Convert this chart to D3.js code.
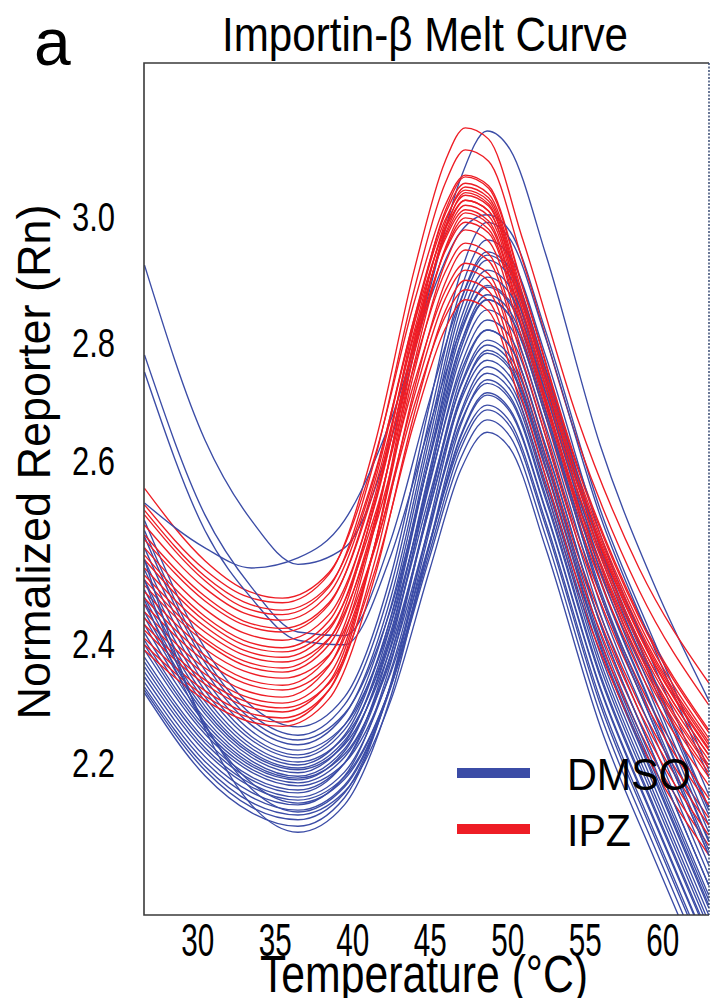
<!DOCTYPE html>
<html>
<head>
<meta charset="utf-8">
<script src="https://cdn.jsdelivr.net/npm/d3@7"></script>
<style>
  html, body { margin: 0; padding: 0; background: #fff; }
  text { font-family: "Liberation Sans", Arial, Helvetica, sans-serif; fill: #000; }
</style>
</head>
<body>
<script>
// ---------------- data ----------------
const chartTitle = "Importin-\u03B2 Melt Curve";
const panelLabel = "a";
const xLabel = "Temperature (\u00B0C)";
const yLabel = "Normalized Reporter (Rn)";
const xTicks = [30, 35, 40, 45, 50, 55, 60];
const yTicks = [2.2, 2.4, 2.6, 2.8, 3.0];
const legendLabels = ["DMSO", "IPZ"];

// temperatures (°C) at which each curve was read
const tempsIPZ  = [26.6, 30.5, 33, 35.5, 38.5, 41.5, 44, 46, 47.3, 48.8, 51, 54.5, 58.5, 63];
const tempsDMSO = [26.6, 30.5, 33.5, 36.5, 39.5, 42.5, 45, 47, 48.7, 50.2, 52.5, 56, 59.5, 63];

// IPZ (red) curves, normalized reporter (Rn)
const ipzCurves = [
  [2.569, 2.490, 2.459, 2.449, 2.477, 2.610, 2.863, 3.017, 3.065, 3.048, 2.889, 2.596, 2.431, 2.254],
  [2.551, 2.480, 2.452, 2.444, 2.475, 2.631, 2.914, 3.087, 3.140, 3.122, 2.963, 2.673, 2.482, 2.333],
  [2.545, 2.473, 2.445, 2.436, 2.463, 2.588, 2.830, 2.979, 3.025, 3.008, 2.849, 2.568, 2.403, 2.212],
  [2.540, 2.468, 2.439, 2.431, 2.461, 2.605, 2.883, 3.052, 3.105, 3.087, 2.929, 2.636, 2.458, 2.296],
  [2.529, 2.460, 2.433, 2.425, 2.454, 2.585, 2.837, 2.994, 3.041, 3.024, 2.865, 2.579, 2.414, 2.229],
  [2.518, 2.451, 2.424, 2.416, 2.444, 2.572, 2.811, 2.963, 3.010, 2.992, 2.833, 2.557, 2.388, 2.195],
  [2.513, 2.446, 2.420, 2.412, 2.442, 2.579, 2.838, 3.003, 3.052, 3.035, 2.876, 2.587, 2.422, 2.240],
  [2.504, 2.437, 2.411, 2.403, 2.431, 2.558, 2.792, 2.944, 2.990, 2.973, 2.814, 2.544, 2.368, 2.175],
  [2.496, 2.429, 2.403, 2.392, 2.424, 2.563, 2.817, 2.983, 3.033, 3.016, 2.857, 2.574, 2.409, 2.220],
  [2.491, 2.424, 2.397, 2.385, 2.417, 2.542, 2.759, 2.911, 2.957, 2.940, 2.780, 2.521, 2.333, 2.139],
  [2.482, 2.418, 2.388, 2.376, 2.414, 2.553, 2.802, 2.967, 3.017, 3.000, 2.841, 2.563, 2.397, 2.203],
  [2.474, 2.412, 2.380, 2.368, 2.405, 2.528, 2.731, 2.881, 2.925, 2.908, 2.746, 2.499, 2.299, 2.106],
  [2.469, 2.405, 2.370, 2.358, 2.404, 2.555, 2.829, 3.008, 3.062, 3.044, 2.886, 2.593, 2.428, 2.250],
  [2.463, 2.401, 2.363, 2.351, 2.397, 2.537, 2.780, 2.946, 2.997, 2.979, 2.821, 2.549, 2.375, 2.182],
  [2.456, 2.390, 2.353, 2.341, 2.380, 2.506, 2.692, 2.840, 2.883, 2.865, 2.700, 2.470, 2.254, 2.060],
  [2.449, 2.379, 2.341, 2.329, 2.378, 2.534, 2.795, 2.971, 3.025, 3.008, 2.849, 2.568, 2.403, 2.212],
  [2.442, 2.370, 2.333, 2.321, 2.363, 2.505, 2.708, 2.868, 2.914, 2.897, 2.734, 2.492, 2.287, 2.094],
  [2.434, 2.358, 2.321, 2.309, 2.361, 2.530, 2.803, 2.989, 3.046, 3.029, 2.870, 2.583, 2.417, 2.234],
  [2.427, 2.348, 2.311, 2.299, 2.346, 2.510, 2.749, 2.925, 2.978, 2.960, 2.802, 2.536, 2.355, 2.161],
  [2.420, 2.338, 2.303, 2.291, 2.332, 2.481, 2.664, 2.821, 2.867, 2.849, 2.683, 2.459, 2.237, 2.044],
  [2.414, 2.331, 2.295, 2.284, 2.334, 2.510, 2.764, 2.949, 3.005, 2.987, 2.829, 2.554, 2.383, 2.190],
  [2.405, 2.320, 2.285, 2.274, 2.321, 2.492, 2.719, 2.894, 2.946, 2.929, 2.768, 2.514, 2.321, 2.128],
  [2.397, 2.311, 2.278, 2.267, 2.321, 2.510, 2.783, 2.978, 3.037, 3.019, 2.860, 2.576, 2.411, 2.223],
  [2.388, 2.304, 2.271, 2.260, 2.306, 2.475, 2.678, 2.849, 2.898, 2.881, 2.717, 2.481, 2.271, 2.077]
];

// DMSO (blue) curves, normalized reporter (Rn)
const dmsoCurves = [
  [2.922, 2.634, 2.534, 2.486, 2.504, 2.634, 2.883, 3.060, 3.135, 3.105, 2.938, 2.625, 2.463, 2.304],
  [2.778, 2.540, 2.461, 2.412, 2.408, 2.513, 2.702, 2.867, 2.938, 2.911, 2.749, 2.503, 2.334, 2.119],
  [2.749, 2.523, 2.449, 2.403, 2.397, 2.496, 2.659, 2.819, 2.890, 2.864, 2.698, 2.470, 2.284, 2.069],
  [2.553, 2.504, 2.482, 2.493, 2.534, 2.668, 2.867, 2.975, 3.002, 2.975, 2.816, 2.546, 2.401, 2.187],
  [2.534, 2.391, 2.294, 2.259, 2.309, 2.474, 2.695, 2.910, 2.990, 2.963, 2.805, 2.539, 2.390, 2.175],
  [2.523, 2.376, 2.280, 2.245, 2.296, 2.462, 2.671, 2.883, 2.962, 2.935, 2.775, 2.519, 2.360, 2.145],
  [2.516, 2.367, 2.271, 2.237, 2.281, 2.438, 2.603, 2.797, 2.867, 2.840, 2.673, 2.454, 2.259, 2.044],
  [2.504, 2.354, 2.262, 2.229, 2.279, 2.450, 2.652, 2.865, 2.943, 2.916, 2.754, 2.506, 2.339, 2.124],
  [2.491, 2.341, 2.252, 2.220, 2.262, 2.421, 2.577, 2.749, 2.819, 2.792, 2.622, 2.421, 2.208, 1.993],
  [2.480, 2.330, 2.243, 2.212, 2.262, 2.440, 2.637, 2.852, 2.930, 2.903, 2.741, 2.497, 2.326, 2.111],
  [2.469, 2.320, 2.237, 2.207, 2.254, 2.428, 2.605, 2.813, 2.887, 2.860, 2.695, 2.468, 2.281, 2.066],
  [2.458, 2.310, 2.229, 2.200, 2.242, 2.407, 2.562, 2.724, 2.795, 2.766, 2.598, 2.404, 2.183, 1.968],
  [2.450, 2.302, 2.223, 2.195, 2.245, 2.429, 2.620, 2.836, 2.914, 2.887, 2.724, 2.486, 2.309, 2.094],
  [2.442, 2.294, 2.217, 2.190, 2.236, 2.413, 2.584, 2.776, 2.851, 2.824, 2.656, 2.443, 2.242, 2.027],
  [2.434, 2.287, 2.213, 2.187, 2.229, 2.393, 2.548, 2.700, 2.769, 2.741, 2.581, 2.382, 2.158, 1.943],
  [2.428, 2.281, 2.208, 2.182, 2.232, 2.421, 2.607, 2.824, 2.903, 2.876, 2.712, 2.479, 2.297, 2.082],
  [2.420, 2.273, 2.202, 2.176, 2.222, 2.404, 2.574, 2.759, 2.835, 2.808, 2.639, 2.432, 2.225, 2.010],
  [2.411, 2.266, 2.197, 2.173, 2.213, 2.372, 2.529, 2.664, 2.730, 2.702, 2.556, 2.343, 2.119, 1.904],
  [2.403, 2.259, 2.193, 2.170, 2.218, 2.409, 2.589, 2.797, 2.875, 2.848, 2.681, 2.459, 2.267, 2.052],
  [2.397, 2.253, 2.188, 2.165, 2.208, 2.382, 2.548, 2.708, 2.781, 2.753, 2.589, 2.393, 2.170, 1.955],
  [2.388, 2.247, 2.183, 2.160, 2.198, 2.351, 2.510, 2.629, 2.693, 2.664, 2.532, 2.306, 2.082, 1.867],
  [2.376, 2.238, 2.175, 2.153, 2.198, 2.380, 2.554, 2.727, 2.803, 2.775, 2.605, 2.410, 2.192, 1.976],
  [2.368, 2.232, 2.170, 2.148, 2.198, 2.397, 2.581, 2.788, 2.867, 2.840, 2.673, 2.454, 2.259, 2.044],
  [2.360, 2.224, 2.163, 2.141, 2.183, 2.355, 2.528, 2.676, 2.747, 2.719, 2.567, 2.360, 2.136, 1.921],
  [2.351, 2.218, 2.158, 2.136, 2.175, 2.328, 2.494, 2.603, 2.668, 2.639, 2.516, 2.281, 2.057, 1.842],
  [2.343, 2.209, 2.149, 2.128, 2.176, 2.367, 2.555, 2.740, 2.819, 2.792, 2.622, 2.421, 2.208, 1.993],
  [2.334, 2.201, 2.141, 2.119, 2.161, 2.329, 2.509, 2.642, 2.714, 2.685, 2.545, 2.326, 2.103, 1.887],
  [2.326, 2.193, 2.132, 2.111, 2.150, 2.304, 2.480, 2.589, 2.647, 2.619, 2.503, 2.260, 2.037, 1.822],
  [2.321, 2.186, 2.124, 2.103, 2.148, 2.331, 2.523, 2.681, 2.758, 2.729, 2.574, 2.370, 2.146, 1.931],
  [2.316, 2.177, 2.115, 2.092, 2.140, 2.333, 2.533, 2.705, 2.786, 2.758, 2.592, 2.398, 2.175, 1.960],
  [2.447, 2.261, 2.165, 2.131, 2.171, 2.329, 2.500, 2.619, 2.685, 2.656, 2.527, 2.297, 2.074, 1.859],
  [2.469, 2.264, 2.155, 2.116, 2.158, 2.326, 2.507, 2.639, 2.710, 2.681, 2.543, 2.323, 2.099, 1.884],
  [2.491, 2.256, 2.128, 2.082, 2.128, 2.311, 2.509, 2.659, 2.736, 2.707, 2.560, 2.348, 2.124, 1.909]
];

// ---------------- layout ----------------
const W = 713, H = 998;
const plot = { left: 144, top: 63, right: 709, bottom: 915 };
const colors = { DMSO: "#3b4ca6", IPZ: "#ee1d25" };
const font = '"Liberation Sans", Arial, Helvetica, sans-serif';

const svg = d3.select("body").append("svg")
  .attr("width", W).attr("height", H)
  .style("display", "block");

svg.append("rect").attr("width", W).attr("height", H).attr("fill", "#fff");

// scales
const x = d3.scaleLinear().domain([30, 60]).range([197.2, 662.2]);
const y = d3.scaleLinear()
  .domain([1.7, 2.2, 2.4, 2.6, 2.8, 3.0, 3.3])
  .range([1059.5, 762, 643, 460, 342, 216, 27]);

// clip
svg.append("defs").append("clipPath").attr("id", "plotclip")
  .append("rect")
  .attr("x", plot.left).attr("y", plot.top)
  .attr("width", plot.right - plot.left).attr("height", plot.bottom - plot.top);

// series, interleaved so colours overlap as in the figure
const series = [];
const n = Math.max(ipzCurves.length, dmsoCurves.length);
for (let i = 0; i < n; i++) {
  if (i < dmsoCurves.length) series.push({ group: "DMSO", temps: tempsDMSO, values: dmsoCurves[i] });
  if (i < ipzCurves.length) series.push({ group: "IPZ", temps: tempsIPZ, values: ipzCurves[i] });
}

const line = d3.line()
  .x(d => x(d[0]))
  .y(d => y(d[1]))
  .curve(d3.curveMonotoneX);

svg.append("g").attr("clip-path", "url(#plotclip)")
  .selectAll("path")
  .data(series)
  .join("path")
  .attr("d", s => line(s.temps.map((t, i) => [t, s.values[i]])))
  .attr("fill", "none")
  .attr("stroke", s => colors[s.group])
  .attr("stroke-width", 1.35)
  .attr("stroke-linejoin", "round");

// frame
svg.append("path")
  .attr("d", `M${plot.right},${plot.top}H${plot.left}V${plot.bottom}H${plot.right}`)
  .attr("fill", "none").attr("stroke", "#3a3a3a").attr("stroke-width", 1.6);
svg.append("line")
  .attr("x1", plot.right).attr("x2", plot.right)
  .attr("y1", plot.top).attr("y2", plot.bottom)
  .attr("stroke", "#2b3f6b").attr("stroke-width", 1.4)
  .attr("stroke-dasharray", "2,1.5");

// x axis
const xAxis = svg.append("g")
  .attr("transform", `translate(0,${plot.bottom})`)
  .call(d3.axisBottom(x).tickValues(xTicks).tickSize(0).tickPadding(8).tickFormat(d3.format("d")));
xAxis.select(".domain").remove();
xAxis.selectAll("text")
  .attr("font-family", font).attr("font-size", 46).attr("fill", "#000")
  .attr("textLength", 33).attr("lengthAdjust", "spacingAndGlyphs");

// y axis
const yAxis = svg.append("g")
  .attr("transform", `translate(${plot.left},0)`)
  .call(d3.axisLeft(y).tickValues(yTicks).tickSize(0).tickPadding(29).tickFormat(d3.format(".1f")));
yAxis.select(".domain").remove();
yAxis.selectAll("text")
  .attr("font-family", font).attr("font-size", 40).attr("fill", "#000")
  .attr("dy", "0.35em")
  .attr("textLength", 43).attr("lengthAdjust", "spacingAndGlyphs");

// titles
svg.append("text")
  .attr("x", 425).attr("y", 51)
  .attr("text-anchor", "middle")
  .attr("font-size", 48)
  .attr("textLength", 406).attr("lengthAdjust", "spacingAndGlyphs")
  .text(chartTitle);

svg.append("text")
  .attr("x", 34).attr("y", 65)
  .attr("font-size", 66)
  .text(panelLabel);

svg.append("text")
  .attr("x", 424).attr("y", 992)
  .attr("text-anchor", "middle")
  .attr("font-size", 51)
  .attr("textLength", 328).attr("lengthAdjust", "spacingAndGlyphs")
  .text(xLabel);

svg.append("text")
  .attr("transform", "translate(50,462) rotate(-90)")
  .attr("text-anchor", "middle")
  .attr("font-size", 46)
  .attr("textLength", 515).attr("lengthAdjust", "spacingAndGlyphs")
  .text(yLabel);

// legend
const legendRows = [
  { label: legendLabels[0], color: colors.DMSO, y: 773, len: 124 },
  { label: legendLabels[1], color: colors.IPZ, y: 829, len: 64 }
];
const lg = svg.append("g");
lg.selectAll("rect").data(legendRows).join("rect")
  .attr("x", 457).attr("y", d => d.y - 5)
  .attr("width", 73).attr("height", 10)
  .attr("fill", d => d.color);
lg.selectAll("text").data(legendRows).join("text")
  .attr("x", 567).attr("y", d => d.y + 17)
  .attr("font-size", 45)
  .attr("textLength", d => d.len).attr("lengthAdjust", "spacingAndGlyphs")
  .text(d => d.label);
</script>
</body>
</html>
